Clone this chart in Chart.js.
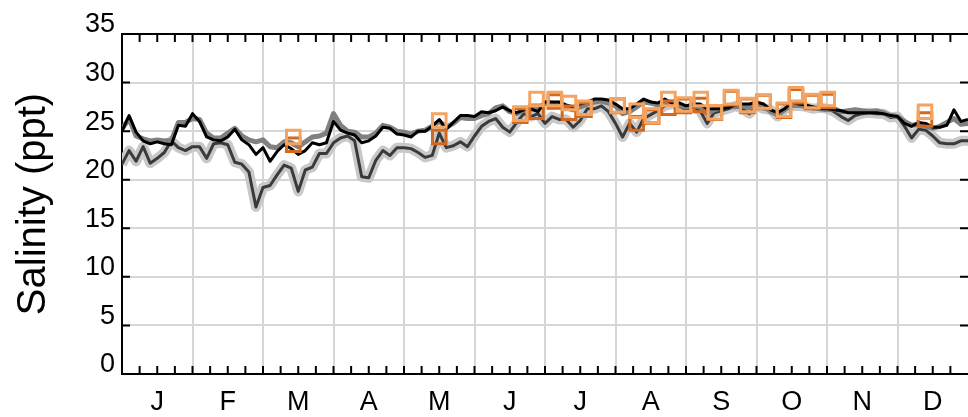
<!DOCTYPE html>
<html>
<head>
<meta charset="utf-8">
<script src="https://cdn.jsdelivr.net/npm/chart.js@4"></script>
<style>
  html, body { margin: 0; padding: 0; background: #fff; }
  canvas { display: block; }
</style>
</head>
<body>
<canvas id="myChart" width="968" height="417"></canvas>
<script>
// x axis is in months (0 = 1 Jan, 12 = end of Dec)
let monthLabels = ['J', 'F', 'M', 'A', 'M', 'J', 'J', 'A', 'S', 'O', 'N', 'D'];
let step = 0.1; // months between samples of the lines

// black line
let blackLine = [
  25.0, 26.6, 24.9, 24.0, 23.7, 23.9, 23.7, 23.6, 25.6, 25.5, 26.8, 26.0, 24.4, 24.1, 24.0, 24.4, 25.2, 24.1, 23.6, 22.6, 23.3,
  21.9, 22.9, 23.6, 23.2, 22.6, 23.0, 23.8, 23.6, 23.8, 26.0, 25.1, 24.8, 24.6, 23.8, 24.0, 24.5, 25.4, 25.3, 24.7, 24.6,
  24.4, 25.0, 25.0, 25.5, 26.2, 25.2, 25.9, 26.6, 26.6, 26.5, 27.0, 26.9, 27.1, 27.5, 27.1, 26.9, 27.2, 27.3, 27.0,
  28.0, 28.0, 28.0, 27.7, 27.5, 27.8, 28.0, 28.3, 28.3, 28.2, 27.8, 27.3, 27.3, 27.8, 28.3, 28.0, 27.9, 28.3, 27.9, 27.9,
  27.6, 27.8, 27.8, 27.3, 27.3, 27.3, 27.4, 27.7, 27.8, 27.8, 28.0, 27.8, 27.2, 26.9, 27.3, 28.0, 27.8, 27.7, 27.5, 27.3,
  27.3, 27.2, 27.1, 26.9, 26.9, 26.9, 26.9, 26.9, 26.8, 26.6, 26.5, 25.8, 25.5, 25.9, 25.8, 25.4, 25.4, 25.6, 27.2, 26.0, 26.2
];

// medium gray line (mostly under the black one)
let grayLine = [
  25.2, 26.3, 24.5, 24.2, 24.0, 24.1, 24.0, 24.0, 25.9, 25.9, 26.3, 26.2, 24.8, 24.3, 24.3, 24.8, 25.3, 24.5, 24.1, 23.9, 24.1,
  23.4, 23.3, 23.9, 23.8, 23.4, 23.9, 24.4, 24.5, 24.8, 26.8, 25.6, 25.0, 24.9, 24.4, 24.4, 24.8, 25.6, 25.4, 25.0, 24.9,
  24.7, 25.0, 25.1, 25.5, 26.0, 25.4, 25.8, 26.4, 26.3, 26.3, 26.6, 26.8, 27.4, 27.6, 27.0, 26.8, 27.2, 27.3, 27.2,
  27.9, 27.9, 27.6, 27.4, 27.2, 27.5, 27.8, 28.0, 28.1, 27.9, 27.6, 26.8, 27.0, 27.5, 28.0, 27.9, 27.7, 28.1, 27.8, 27.6,
  27.5, 27.6, 27.5, 26.8, 27.2, 27.4, 27.5, 27.5, 27.6, 27.4, 27.8, 27.6, 27.0, 26.7, 27.2, 27.7, 27.7, 27.5, 27.4, 27.3,
  27.2, 27.3, 27.0, 27.1, 27.2, 27.1, 27.0, 27.1, 26.9, 26.6, 26.5, 26.0, 25.6, 25.7, 25.5, 25.3, 25.5, 25.9, 26.3, 25.7, 25.8
];

// dark gray line (with light gray spread)
let darkLine = [
  21.6, 23.0, 21.9, 23.4, 21.7, 22.2, 22.8, 24.0, 23.3, 23.0, 23.4, 23.4, 22.2, 23.7, 23.8, 23.6, 21.8, 21.6, 20.8, 17.2, 19.2,
  19.4, 20.5, 21.5, 21.2, 18.8, 21.0, 21.3, 22.7, 22.7, 23.8, 24.3, 24.5, 24.0, 20.3, 20.2, 22.0, 23.0, 22.5, 23.3, 23.3,
  23.2, 22.8, 22.3, 22.5, 24.8, 23.3, 23.5, 23.9, 23.4, 24.5, 25.5, 26.0, 26.3, 25.4, 24.9, 25.9, 26.8, 26.5, 26.8,
  25.8, 26.5, 26.2, 26.2, 25.4, 26.1, 27.3, 27.3, 27.6, 27.0, 25.8, 24.4, 25.8, 24.9, 26.3, 26.7, 27.1, 27.6, 27.8, 27.6,
  27.2, 27.5, 27.1, 25.8, 26.9, 27.1, 27.3, 27.6, 27.3, 26.8, 27.6, 27.3, 27.2, 26.5, 27.2, 27.6, 27.6, 27.5, 27.3, 27.4,
  27.3, 27.0, 26.5, 26.1, 26.6, 26.8, 26.9, 26.8, 26.8, 26.4, 26.5, 25.5, 24.3, 25.2, 25.1, 24.5, 23.8, 23.7, 23.7, 24.0, 24.0
];

// discrete samples (open squares)
let sqMonth = [2.43, 4.50, 5.65, 5.88, 6.14, 6.34, 6.56, 7.03, 7.30, 7.52, 7.75, 7.97, 8.21, 8.41, 8.64, 8.87, 9.10, 9.39, 9.56, 9.79, 10.01, 11.39];
let sqLight = [24.4, 26.1, 26.8, 28.3, 28.3, 27.9, 27.4, 27.65, 27.1, 26.6, 28.3, 27.75, 28.3, 26.95, 28.5, 27.7, 28.05, 27.2, 28.8, 28.1, 28.3, 27.0];
let sqDark = [23.6, 24.4, 26.6, 27.0, 28.05, 26.9, 27.2, 27.6, 25.8, 26.5, 27.4, 27.6, 27.7, 26.9, 28.4, 27.6, 28.0, 27.1, 28.6, 28.0, 28.1, 26.2];

let yTicks = [0, 5, 10, 15, 20, 25, 30, 35];

function toPoints(arr) {
  return arr.map((v, i) => ({ x: i * step, y: v }));
}
function toSquares(xs, ys) {
  return xs.map((m, i) => ({ x: m, y: ys[i] }));
}

// grid lines on month edges, letters in the middle of each month
let xTickValues = [];
for (let m = 0; m < 12; m++) {
  xTickValues.push(m + 0.5);
  if (m < 11) xTickValues.push(m + 1);
}

// frame on top, inward tick marks
const framePlugin = {
  id: 'frame',
  afterDraw(chart) {
    const { ctx, chartArea: a, scales: { x, y } } = chart;
    ctx.save();
    ctx.strokeStyle = '#000';
    ctx.lineWidth = 2;
    ctx.beginPath();
    ctx.moveTo(a.left, a.top);
    ctx.lineTo(a.right, a.top);
    for (let k = 1; k < 48; k++) {
      const px = x.getPixelForValue(k / 4);
      ctx.moveTo(px, a.bottom);
      ctx.lineTo(px, a.bottom - 8);
      ctx.moveTo(px, a.top);
      ctx.lineTo(px, a.top + 8);
    }
    yTicks.slice(1, -1).forEach(v => {
      const py = y.getPixelForValue(v);
      ctx.moveTo(a.left, py);
      ctx.lineTo(a.left + 8, py);
      ctx.moveTo(a.right, py);
      ctx.lineTo(a.right - 8, py);
    });
    ctx.stroke();
    ctx.restore();
  }
};

Chart.defaults.font.family = "'Liberation Sans', Arial, sans-serif";
Chart.defaults.color = '#000';

let ctx = document.getElementById('myChart').getContext('2d');
let myChart = new Chart(ctx, {
  type: 'line',
  data: {
    datasets: [
      {
        data: toSquares(sqMonth, sqLight),
        showLine: false,
        pointStyle: 'rect',
        pointRadius: 9.6,
        pointBorderWidth: 3,
        pointBorderColor: '#f4a460',
        pointBackgroundColor: 'rgba(0,0,0,0)',
        order: 0
      },
      {
        data: toSquares(sqMonth, sqDark),
        showLine: false,
        pointStyle: 'rect',
        pointRadius: 9.6,
        pointBorderWidth: 3,
        pointBorderColor: '#d2691e',
        pointBackgroundColor: 'rgba(0,0,0,0)',
        order: 1
      },
      {
        data: toPoints(blackLine),
        borderColor: '#000',
        borderWidth: 3,
        pointRadius: 0,
        order: 2
      },
      {
        data: toPoints(grayLine),
        borderColor: '#808080',
        borderWidth: 5,
        pointRadius: 0,
        order: 3
      },
      {
        data: toPoints(darkLine),
        borderColor: '#3a3a3a',
        borderWidth: 3,
        pointRadius: 0,
        order: 4
      },
      {
        data: toPoints(darkLine),
        borderColor: '#c8c8c8',
        borderWidth: 10,
        pointRadius: 0,
        order: 5
      }
    ]
  },
  options: {
    responsive: false,
    animation: false,
    devicePixelRatio: 1,
    layout: { autoPadding: false, padding: { top: 34, right: 0, bottom: 0, left: 0 } },
    elements: { line: { tension: 0, borderJoinStyle: 'round' } },
    plugins: { legend: { display: false }, tooltip: { enabled: false } },
    scales: {
      x: {
        type: 'linear',
        min: 0,
        max: 12,
        afterBuildTicks: scale => { scale.ticks = xTickValues.map(v => ({ value: v })); },
        afterFit: scale => { scale.height = 43; },
        ticks: {
          autoSkip: false,
          maxRotation: 0,
          padding: 0,
          font: { size: 27, lineHeight: 2.15 },
          callback: v => Number.isInteger(v) ? '' : monthLabels[Math.floor(v)]
        },
        grid: {
          drawTicks: false,
          lineWidth: 2,
          color: c => (c.tick && Number.isInteger(c.tick.value)) ? '#d6d6d6' : 'rgba(0,0,0,0)'
        },
        border: { display: true, color: '#000', width: 2 }
      },
      y: {
        min: 0,
        max: 35,
        afterBuildTicks: scale => { scale.ticks = yTicks.map(v => ({ value: v })); },
        afterFit: scale => {
          scale.width = 122;
          scale.paddingTop = 0;
          scale.paddingBottom = 0;
        },
        ticks: {
          padding: 7,
          labelOffset: -9,
          font: { size: 27 }
        },
        grid: { drawTicks: false, lineWidth: 2, color: '#d6d6d6' },
        border: { display: true, color: '#000', width: 2 },
        title: {
          display: true,
          text: 'Salinity (ppt)',
          font: { size: 40 },
          padding: { top: 10, bottom: 0 }
        }
      }
    }
  },
  plugins: [framePlugin]
});
</script>
</body>
</html>
